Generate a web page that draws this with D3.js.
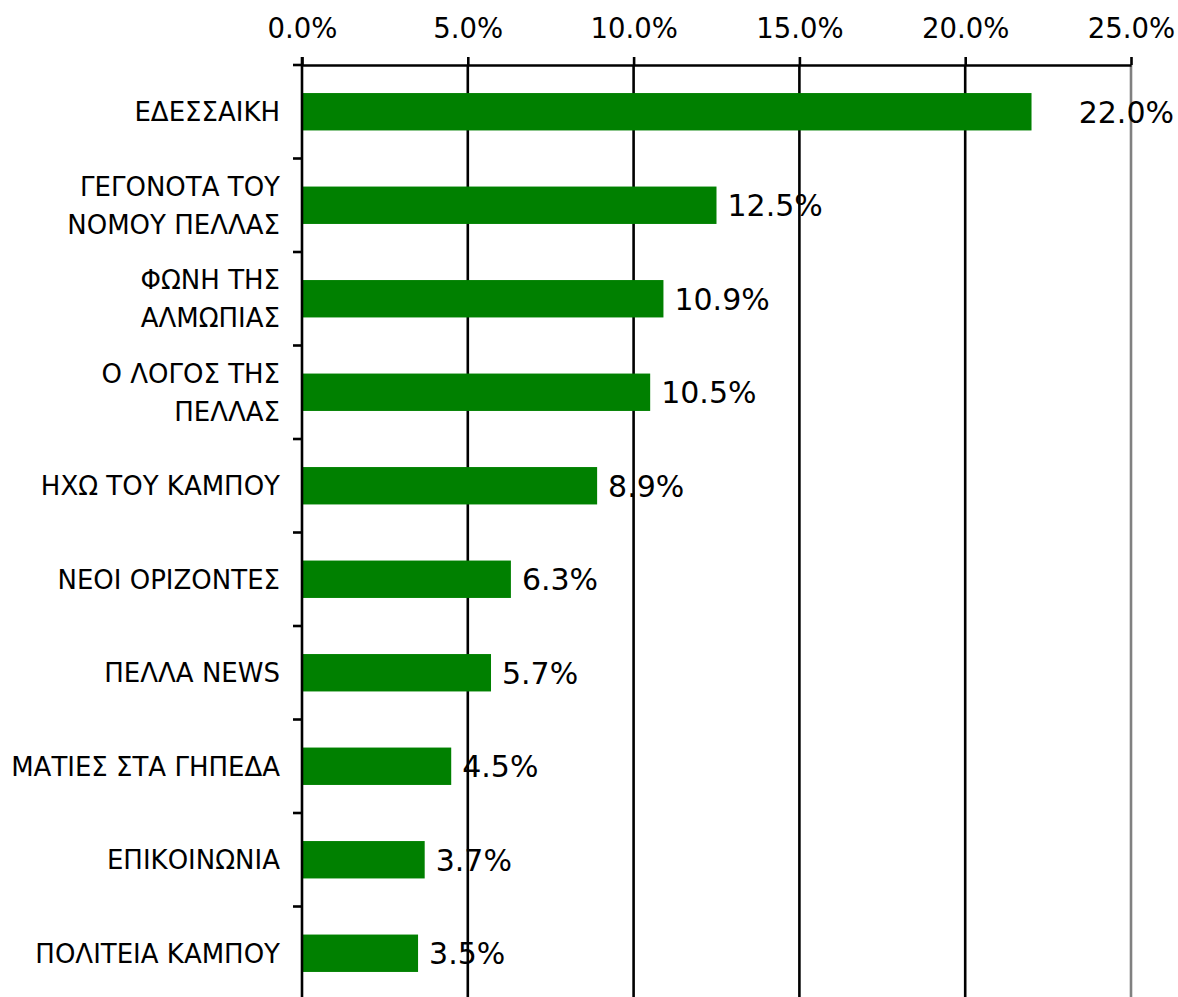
<!DOCTYPE html>
<html><head><meta charset="utf-8">
<script src="https://cdn.jsdelivr.net/npm/d3@7"></script>
<style>body{margin:0;background:#fff}svg{display:block}</style>
</head><body>
<script>
const categories = [
  ["ΕΔΕΣΣΑΙΚΗ"],
  ["ΓΕΓΟΝΟΤΑ ΤΟΥ","ΝΟΜΟΥ ΠΕΛΛΑΣ"],
  ["ΦΩΝΗ ΤΗΣ","ΑΛΜΩΠΙΑΣ"],
  ["Ο ΛΟΓΟΣ ΤΗΣ","ΠΕΛΛΑΣ"],
  ["ΗΧΩ ΤΟΥ ΚΑΜΠΟΥ"],
  ["ΝΕΟΙ ΟΡΙΖΟΝΤΕΣ"],
  ["ΠΕΛΛΑ NEWS"],
  ["ΜΑΤΙΕΣ ΣΤΑ ΓΗΠΕΔΑ"],
  ["ΕΠΙΚΟΙΝΩΝΙΑ"],
  ["ΠΟΛΙΤΕΙΑ ΚΑΜΠΟΥ"]
];
const values = [22.0, 12.5, 10.9, 10.5, 8.9, 6.3, 5.7, 4.5, 3.7, 3.5];
const tickValues = [0, 5, 10, 15, 20, 25];
const tickLabels = ["0.0%","5.0%","10.0%","15.0%","20.0%","25.0%"];

const W = 1178, H = 997;
const svg = d3.select("body").append("svg").attr("width", W).attr("height", H);
const font = "'DejaVu Sans', Verdana, sans-serif";
const SW = 2.6;

const x = d3.scaleLinear().domain([0, 25]).range([302, 1131]);
const y = d3.scaleBand().domain(d3.range(values.length)).range([65, 1000]).paddingInner(0.6).paddingOuter(0.3);
const step = y.step();
const plotTop = 65, plotBottom = 1000;

// gridlines
svg.append("g").selectAll("line").data(tickValues.slice(1)).join("line")
  .attr("x1", d => x(d)).attr("x2", d => x(d))
  .attr("y1", plotTop).attr("y2", plotBottom)
  .attr("stroke", d => d === 25 ? "#808080" : "#000").attr("stroke-width", SW);

// bars
svg.append("g").selectAll("rect").data(values).join("rect")
  .attr("x", x(0) + 1).attr("y", (d, i) => y(i))
  .attr("width", d => x(d) - x(0) - 1).attr("height", y.bandwidth())
  .attr("fill", "#008000");

// top axis
const xAxis = d3.axisTop(x).tickValues(tickValues).tickFormat((d, i) => tickLabels[i]).tickSize(8).tickSizeOuter(0).tickPadding(19);
const gx = svg.append("g").attr("transform", `translate(0,${plotTop})`).call(xAxis);
gx.select(".domain").attr("stroke", "#000").attr("stroke-width", SW);
gx.selectAll(".tick line").attr("stroke", "#000").attr("stroke-width", SW);
gx.selectAll(".tick text").attr("font-family", font).attr("font-size", 27.5).attr("fill", "#000");
// extend top axis line left to meet y tick
svg.append("line").attr("x1", 293).attr("x2", 302).attr("y1", plotTop).attr("y2", plotTop)
  .attr("stroke", "#000").attr("stroke-width", SW);

// y axis line
svg.append("line").attr("x1", x(0)).attr("x2", x(0)).attr("y1", plotTop - 8).attr("y2", plotBottom)
  .attr("stroke", "#000").attr("stroke-width", SW);
// y tick marks at band boundaries
svg.append("g").selectAll("line").data(d3.range(1, values.length)).join("line")
  .attr("x1", 293).attr("x2", x(0))
  .attr("y1", i => plotTop + i * step).attr("y2", i => plotTop + i * step)
  .attr("stroke", "#000").attr("stroke-width", SW);

// category labels
const lineH = 38;
categories.forEach((lines, i) => {
  const cy = plotTop + (i + 0.5) * step;
  const t = svg.append("text").attr("font-family", font).attr("font-size", 26).attr("fill", "#000")
    .attr("text-anchor", "end");
  lines.forEach((ln, k) => {
    t.append("tspan").attr("x", 280)
      .attr("y", cy + (k - (lines.length - 1) / 2) * lineH)
      .attr("dy", "0.36em").text(ln);
  });
});

// value labels (labels that would overflow the plot are pushed to the chart's right edge)
svg.append("g").selectAll("text").data(values).join("text")
  .attr("font-family", font).attr("font-size", 30).attr("fill", "#000")
  .attr("y", (d, i) => y(i) + y.bandwidth() / 2).attr("dy", "0.36em")
  .text(d => d.toFixed(1) + "%")
  .each(function(d) {
    const w = this.getComputedTextLength();
    let px = x(d) + 11;
    if (px + w > x(25)) px = W - 4 - w;
    d3.select(this).attr("x", px);
  });
</script>
</body></html>
